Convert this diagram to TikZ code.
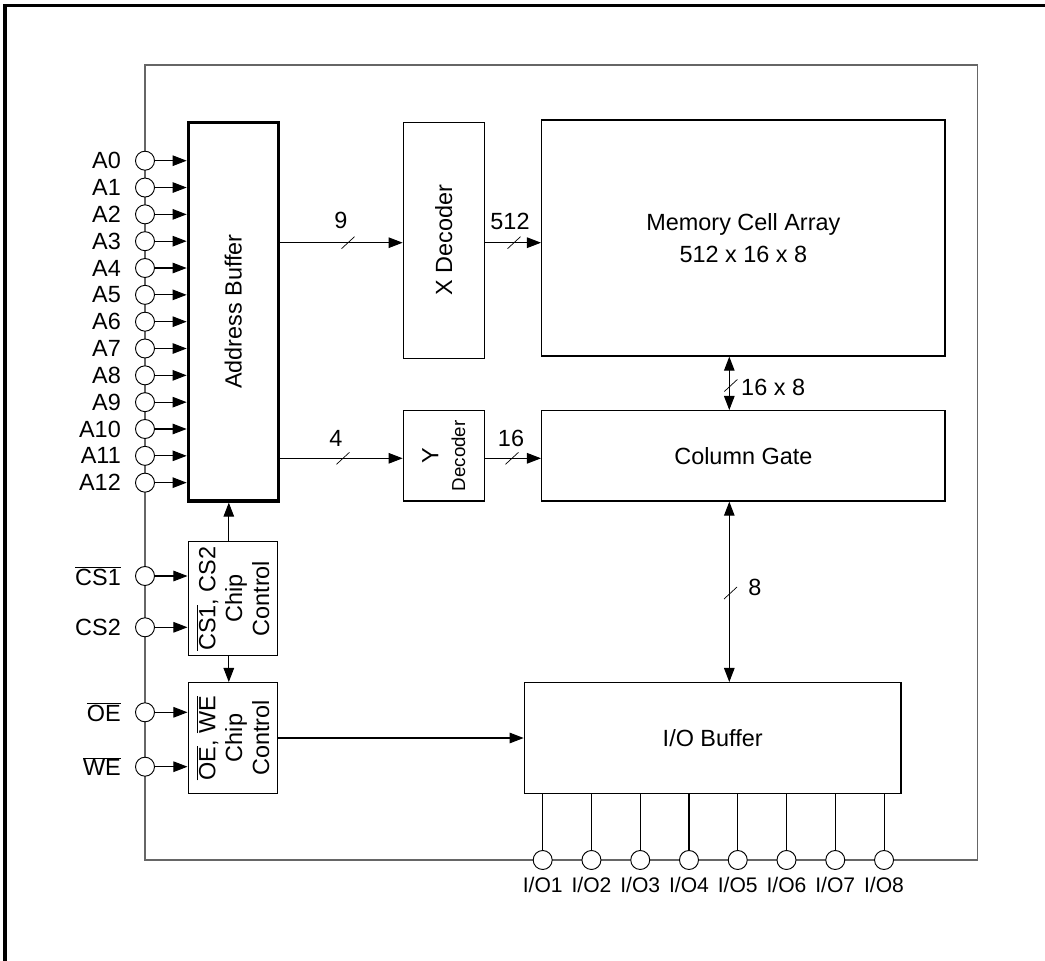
\documentclass[tikz,border=0pt]{standalone}
\usepackage{fontspec}
\setmainfont{Liberation Sans}
\usetikzlibrary{arrows.meta,positioning}

\begin{document}
\begin{tikzpicture}[x=0.03cm,y=-0.03cm,>={Triangle[length=12pt,width=9pt]},
  font=\fontsize{20}{23}\selectfont,
  blk/.style={draw,line width=1.1pt,fill=white,inner sep=0pt,align=center},
  vtext/.style={label={[rotate=90,align=center]center:#1}},
  pin/.style={draw,circle,fill=white,line width=0.8pt,minimum size=0.57cm,inner sep=0pt},
  pinlabel/.style={inner sep=0pt,left=0.42cm of #1},
  sig/.style={line width=0.9pt},
  num/.style={inner sep=0pt}]
  \useasboundingbox (0,0) rectangle (1045,961);
  \clip (0,0) rectangle (1045,961);
  \draw[line width=2.6pt] (5,5.5) rectangle (1080,1000);
  % chip outline
  \draw[black!60,line width=1.2pt] (145,65) rectangle (977.7,860);

  % blocks
  \node[blk,line width=2.8pt,minimum width=2.7cm,minimum height=11.36cm,vtext={Address Buffer}] (ab) at (233.3,311.65) {};
  \node[blk,minimum width=2.43cm,minimum height=7.08cm,vtext={X Decoder}] (xdec) at (443.8,240.3) {};
  \node[blk,minimum width=12.1cm,minimum height=7.08cm,font=\fontsize{20}{27}\selectfont] (mem) at (743.35,238) {Memory Cell Array\\512 x 16 x 8};
  \node[blk,minimum width=2.43cm,minimum height=2.71cm,
    vtext={{\fontsize{20}{21}\selectfont Y}\\{\fontsize{16}{21}\selectfont Decoder}}] (ydec) at (443.8,455.85) {};
  \node[blk,minimum width=12.1cm,minimum height=2.71cm] (cg) at (743.35,455.85) {Column Gate};
  \node[blk,minimum width=11.3cm,minimum height=3.32cm] (iobuf) at (712.65,738) {I/O Buffer};
  \node[blk,minimum width=2.69cm,minimum height=3.42cm,
    vtext={$\overline{\mbox{CS1}}$, CS2\\Chip\\Control}] (csc) at (233,598.7) {};
  \node[blk,minimum width=2.69cm,minimum height=3.32cm,
    vtext={$\overline{\mbox{OE}}$, $\overline{\mbox{WE}}$\\Chip\\Control}] (oec) at (233,738) {};

  % address pins
  \foreach \i in {0,...,12} {
    \node[pin] (a\i) at (145,{160.7+26.83*\i}) {};
    \node[pinlabel=a\i] (la\i) {A\i};
    \draw[sig,->] (a\i) -- (a\i -| ab.west);
  }

  % control pins
  \node[pin] (cs1) at (145,576) {};
  \node[pin] (cs2) at (145,627.3) {};
  \node[pin] (oe) at (145,712.3) {};
  \node[pin] (we) at (145,766.7) {};
  \node[pinlabel=cs1] (lcs1) {$\overline{\mbox{CS1}}$};
  \node[pinlabel=cs2] (lcs2) {CS2};
  \node[pinlabel=oe] (loe) {$\overline{\mbox{OE}}$};
  \node[pinlabel=we] (lwe) {$\overline{\mbox{WE}}$};
  \foreach \p/\b in {cs1/csc,cs2/csc,oe/oec,we/oec}
    \draw[sig,->] (\p) -- (\p -| \b.west);

  % I/O pins
  \foreach \i in {1,...,8} {
    \node[pin] (io\i) at ({542.7+48.76*(\i-1)},860) {};
    \draw[sig] (iobuf.south -| io\i) -- (io\i);
    \node[num,below=0.2cm of io\i,font=\fontsize{18}{20}\selectfont] (lio\i) {I/O\i};
  }

  % buses
  \coordinate (xrow) at (0,242.7);
  \coordinate (yrow) at (0,458.3);
  \coordinate (gcol) at (729.3,0);
  \coordinate (ccol) at (228.8,0);
  \draw[sig,->] (ab.east |- xrow) -- (xdec.west |- xrow);
  \draw[sig,->] (xdec.east |- xrow) -- (mem.west |- xrow);
  \draw[sig,->] (ab.east |- yrow) -- (ydec.west |- yrow);
  \draw[sig,->] (ydec.east |- yrow) -- (cg.west |- yrow);
  \draw[sig,<->] (mem.south -| gcol) -- (cg.north -| gcol);
  \draw[sig,<->] (cg.south -| gcol) -- (iobuf.north -| gcol);
  \draw[sig,->] (csc.north -| ccol) -- (ab.south -| ccol);
  \draw[sig,->] (csc.south -| ccol) -- (oec.north -| ccol);
  \draw[sig,->] (oec.east) -- (iobuf.west);

  % bus widths
  \foreach \x/\y in {348/242.7,514/242.7,343/458.3,512/458.3,730.8/385.5,730.5/593}
    \draw[line width=0.6pt] (\x-6.5,\y+6) -- (\x+6.5,\y-6);
  \node[num] (n9) at (341,220) {9};
  \node[num] (n512) at (510,221) {512};
  \node[num] (n4) at (336,438) {4};
  \node[num] (n16) at (511,438) {16};
  \node[num,anchor=west] (n168) at (741,387) {16 x 8};
  \node[num] (n8) at (755,587) {8};
\end{tikzpicture}
\end{document}
